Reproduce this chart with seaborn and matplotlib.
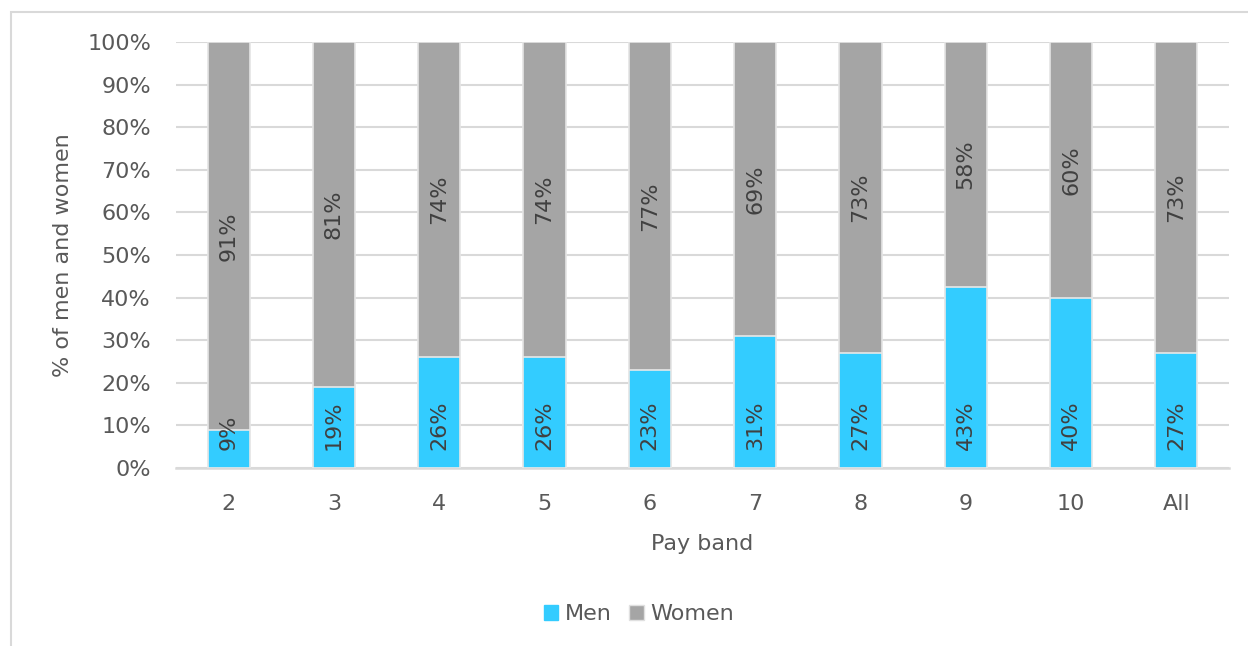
import matplotlib
matplotlib.use("Agg")
import pandas as pd
import seaborn as sns
import matplotlib.pyplot as plt
from matplotlib.patches import Patch, Rectangle
from matplotlib.ticker import PercentFormatter

# Dados
bandas = ["2", "3", "4", "5", "6", "7", "8", "9", "10", "All"]
homens = [9, 19, 26, 26, 23, 31, 27, 43, 40, 27]
mulheres = [91, 81, 74, 74, 77, 69, 73, 58, 60, 73]

cor_homens = "#33CCFF"
cor_mulheres = "#A5A5A5"
cor_texto = "#595959"
cor_grade = "#D9D9D9"
tam = 16

df = pd.DataFrame({"banda": bandas, "homens": homens, "mulheres": mulheres})
df["total"] = df["homens"] + df["mulheres"]
df["fracao_homens"] = df["homens"] / df["total"]
df["fracao_total"] = df["total"] / df["total"]

sns.set_style("white")
plt.rcParams["font.family"] = ["DejaVu Sans"]

fig = plt.figure(figsize=(12.48, 6.46), dpi=100)
ax = fig.add_axes([176 / 1248, 1 - 468 / 646, (1229 - 176) / 1248, (468 - 42) / 646])

# Barras empilhadas (100%): total em cinza, homens por cima
sns.barplot(data=df, x="banda", y="fracao_total", color=cor_mulheres, width=0.4,
            edgecolor="#E4E4E4", linewidth=1.2, saturation=1, ax=ax, zorder=2)
sns.barplot(data=df, x="banda", y="fracao_homens", color=cor_homens, width=0.4,
            edgecolor="#E8E8E8", linewidth=1.2, saturation=1, ax=ax, zorder=3)

# Rótulos dos dados
for i, row in df.iterrows():
    ax.annotate(f"{row['homens']}%", xy=(i, 0), xytext=(0, 13), textcoords="offset points",
                rotation=90, ha="center", va="bottom", fontsize=tam, color="#404040", zorder=5)
    meio = (row["fracao_homens"] + 1) / 2
    ax.text(i, meio, f"{row['mulheres']}%", rotation=90, ha="center", va="center",
            fontsize=tam, color="#404040", zorder=5)

ax.set_ylim(0, 1)
ax.set_xlim(-0.5, len(bandas) - 0.5)
ax.set_yticks([k / 10 for k in range(11)])
ax.yaxis.set_major_formatter(PercentFormatter(1.0, decimals=0))
ax.grid(axis="y", color=cor_grade, linewidth=1.5, zorder=0)
ax.set_axisbelow(True)
for lado in ["top", "right", "left"]:
    ax.spines[lado].set_visible(False)
ax.spines["bottom"].set_color(cor_grade)
ax.spines["bottom"].set_linewidth(1.8)
ax.tick_params(axis="both", length=0, labelsize=tam, labelcolor=cor_texto)
ax.tick_params(axis="y", pad=18)
ax.tick_params(axis="x", pad=19)

ax.set_xlabel("Pay band", fontsize=tam, color=cor_texto, labelpad=14)
ax.set_ylabel("% of men and women", fontsize=tam, color=cor_texto, labelpad=10)

# Legenda
alcas = [Patch(facecolor=cor_homens, edgecolor=cor_homens, label="Men"),
         Patch(facecolor=cor_mulheres, edgecolor="#E0E0E0", label="Women")]
fig.legend(handles=alcas, loc="center", bbox_to_anchor=(639 / 1248, 1 - 614 / 646), ncol=2,
           frameon=False, fontsize=tam, labelcolor=cor_texto, handlelength=0.65,
           handleheight=0.65, handletextpad=0.3, columnspacing=0.8)

# Moldura do gráfico
fig.patches.append(Rectangle((11 / 1248, -0.1), 1.2, 1 - 12 / 646 + 0.1, transform=fig.transFigure,
                             fill=False, edgecolor=cor_grade, linewidth=1.5))

fig.savefig("out.png", dpi=100)
